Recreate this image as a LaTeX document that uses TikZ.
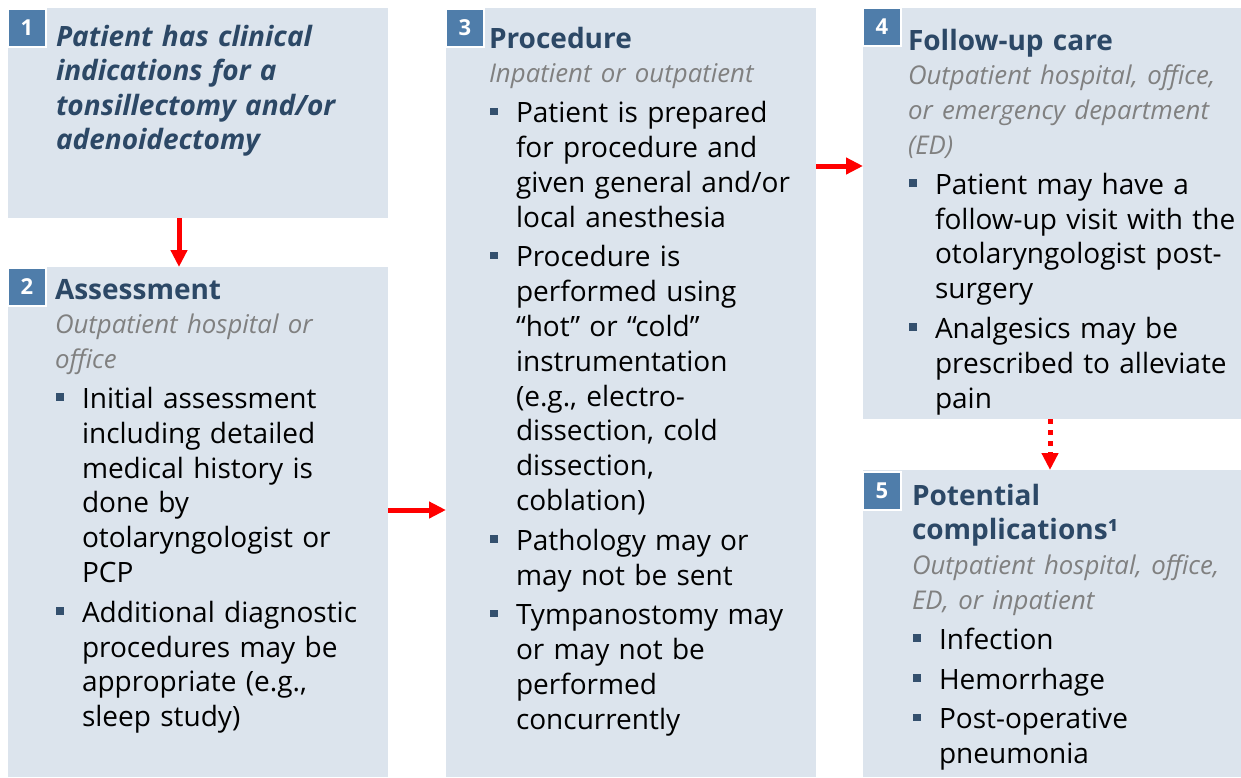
\documentclass[tikz,border=0pt]{standalone}
\usepackage{fontspec}
\setmainfont{Open Sans}
\usetikzlibrary{arrows.meta}
\definecolor{boxc}{RGB}{220,228,237}
\definecolor{badgec}{RGB}{79,125,170}
\definecolor{ttlc}{RGB}{44,72,102}
\definecolor{subc}{RGB}{128,128,128}
\definecolor{bulc}{RGB}{52,80,110}
\definecolor{arrc}{RGB}{255,0,0}
\newcommand\bxtitle[1]{{\fontsize{28}{34.8}\selectfont\bfseries\noindent\color{ttlc}#1\par}}
\newcommand\bxsub[1]{{\fontsize{25.8}{34.8}\selectfont\itshape\noindent\color{subc}#1\par}}
\newcommand\bxitem[1]{\par\vspace{5pt}{\noindent\hangindent=27pt\hangafter=1\makebox[27pt][l]{\hspace{1pt}\raisebox{7.5pt}{\textcolor{bulc}{\rule{7.5pt}{7.5pt}}}}#1\par}}
\begin{document}
\begin{tikzpicture}[x=1pt,y=-1pt,
  bx/.style={fill=boxc, draw=none, anchor=north west, inner sep=0pt, outer sep=0pt},
  badge/.style={fill=badgec, draw=white, line width=1.5pt, minimum size=38pt, inner sep=0pt, outer sep=0pt, text=white, font=\fontsize{22}{26}\selectfont\bfseries},
  txt/.style={anchor=base west, text width=400pt, inner sep=0pt, outer sep=0pt, font=\fontsize{28}{34.8}\selectfont},
  arr/.style={draw=arrc, line width=5pt, -{Triangle[length=17pt,width=16pt]}},
  darr/.style={arr, dash pattern=on 5pt off 6pt}]
\useasboundingbox (0,0) rectangle (1241,777);
% boxes
\node[bx, minimum width=380pt, minimum height=210pt] (box1) at (8,8) {};
\node[bx, minimum width=380pt, minimum height=510pt] (box2) at (8,267) {};
\node[bx, minimum width=370pt, minimum height=769pt] (box3) at (446,8) {};
\node[bx, minimum width=378pt, minimum height=411pt] (box4) at (863,8) {};
\node[bx, minimum width=378pt, minimum height=307pt] (box5) at (863,470) {};
% badges
\node[badge] (b1) at (27,28) {1};
\node[badge] (b2) at (27,287) {2};
\node[badge] (b3) at (465,28) {3};
\node[badge] (b4) at (882,27) {4};
\node[badge] (b5) at (882,491) {5};
% texts
\node[txt] (t1) at (56,46) {{\fontsize{28}{34.5}\selectfont\bfseries\itshape\noindent\color{ttlc}Patient has clinical\newline indications for a\newline tonsillectomy and/or\newline adenoidectomy\par}};
\node[txt] (t2) at (55,299) {\bxtitle{Assessment}\bxsub{Outpatient hospital or\newline office}%
\bxitem{Initial assessment\newline including detailed\newline medical history is\newline done by\newline otolaryngologist or\newline PCP}%
\bxitem{Additional diagnostic\newline procedures may be\newline appropriate (e.g.,\newline sleep study)}};
\node[txt] (t3) at (489,48) {\bxtitle{Procedure}\bxsub{Inpatient or outpatient}%
\bxitem{Patient is prepared\newline for procedure and\newline given general and/or\newline local anesthesia}%
\bxitem{Procedure is\newline performed using\newline “hot” or “cold”\newline instrumentation\newline (e.g., electro-\newline dissection, cold\newline dissection,\newline coblation)}%
\bxitem{Pathology may or\newline may not be sent}%
\bxitem{Tympanostomy may\newline or may not be\newline performed\newline concurrently}};
\node[txt] (t4) at (908,50) {\bxtitle{Follow-up care}\bxsub{Outpatient hospital, office,\newline or emergency department\newline (ED)}%
\bxitem{Patient may have a\newline follow-up visit with the\newline otolaryngologist post-\newline surgery}%
\bxitem{Analgesics may be\newline prescribed to alleviate\newline pain}};
\node[txt] (t5) at (912,505) {\bxtitle{Potential\newline complications¹}\bxsub{Outpatient hospital, office,\newline ED, or inpatient}%
\bxitem{Infection}%
\bxitem{Hemorrhage}%
\bxitem{Post-operative\newline pneumonia}};
% arrows
\draw[arr] ([xshift=-19pt]box1.south) -- ([xshift=-19pt]box2.north);
\draw[arr] ([yshift=12pt]box2.east) -- ([yshift=12pt]box2.east -| box3.west);
\draw[arr] ([yshift=-158pt]box3.north east) -- ([yshift=-158pt]box4.north west);
\draw[darr] ([xshift=-2pt]box4.south) -- ([xshift=-2pt]box5.north);
\end{tikzpicture}
\end{document}
